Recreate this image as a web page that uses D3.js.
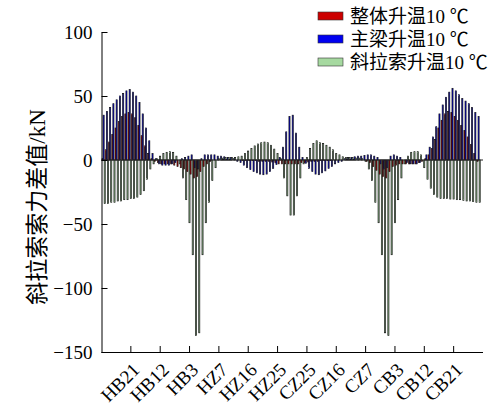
<!DOCTYPE html>
<html>
<head>
<meta charset="utf-8">
<script src="https://cdn.jsdelivr.net/npm/d3@7"></script>
<style>
  body { margin: 0; background: #fff; }
  svg text { font-family: "Liberation Serif", "Noto Sans CJK SC", serif; fill: #000; }
</style>
</head>
<body>
<svg id="chart" width="502" height="408"></svg>
<script>

/////
//
// Data: cable names and force differences (kN)
//
/////

// HB29..HB1, HZ1..HZ29, CZ29..CZ1, CB1..CB29
var cables = [];
d3.range(29, 0, -1).forEach(function(n) { cables.push("HB" + n); });
d3.range(1, 30).forEach(function(n) { cables.push("HZ" + n); });
d3.range(29, 0, -1).forEach(function(n) { cables.push("CZ" + n); });
d3.range(1, 30).forEach(function(n) { cables.push("CB" + n); });

var tickLabels = ["HB21", "HB12", "HB3", "HZ7", "HZ16", "HZ25",
                  "CZ25", "CZ16", "CZ7", "CB3", "CB12", "CB21"];

var seriesNames = ["整体升温10 ℃", "主梁升温10 ℃", "斜拉索升温10 ℃"];

// 整体升温10 ℃
var overall = [
   1,  8, 14, 20, 25, 30, 34, 36, 37, 36, 33, 27, 19, 11,  5,  1, -1, -2, -3, -3,
  -3, -3, -4, -5, -6, -7, -9,-11,-14,-13, -9, -5, -3, -1,  0,  0,  0, 0.5, 0.5, 0.5,
   0,  0,  0,-0.5,-0.5,-0.5,-0.5,-0.5,-1, -1, -1, -1,-1.5,-2, -3, -3, -3, -3,
  -3, -3, -3, -2, -2,-1.5,-1, -1, -1,-0.5,-0.5,-0.5,-0.5, 0,  0,  0,  0, 0.5, 0.5, 0.5,
   0,  0,  0, -1, -2, -5, -8,-11,-13,-14, -9, -5, -4, -3, -3, -3, -3, -3, -3, -2,
  -1,  1,  4,  9, 16, 25, 31, 36, 38, 37, 34, 31, 27, 23, 18, 12,  5, -1
];

// 主梁升温10 ℃
var girder = [
  35, 38, 41, 44, 47, 50, 52, 54, 55, 53, 50, 45, 36, 25, 15,  5,  1, -3, -4, -4,
  -4, -3, -2,  0,  1,  2,  3,  4, -6, -7,  1,  4,  4,  4,  4,  3,  3, 2.5, 2,  2,
   1, -1, -2, -4, -6,-7.5,-9,-10,-11,-11.5,-11,-9,-6.5,-3.5, 2, 10, 22, 34,
  35, 21, 10,  2,-2.5,-6.5,-9,-11,-11.5,-10,-8.5,-6.5,-5, -3, -2, -1,  1,  2,  2, 2.5,
   3,  3, 3.5, 4,  4,  3,  2, -3, -7, -6,  3,  4,  3,  2,  0, -2, -3, -3, -3, -2,
   0,  4, 10, 18, 26, 36, 43, 49, 53, 56, 54, 51, 48, 46, 44, 41, 37, 34
];

// 斜拉索升温10 ℃
var cable = [
  -34,-34,-33,-33,-32,-32,-31,-31,-30,-30,-29,-27,-24,-15, -7, -3,  1,  3,  5,  6,
  6.5,  6,  3, -3,-14,-31,-49,-74,-137,-135,-74,-49,-33,-16, -6,  1, 1.5, 2,  2,  2,
    2, 2.5, 3,  5,  7,  9, 11,12.5,13.5,14,13.5,11.5,8.5, 5,  1,-14,-28,-43,
  -43,-28,-14, -3,  2,  9, 13, 15,13.5, 13,11.5, 10,  8,  5,  4, 2.5, 2,  2,  2, 1.5,
  1.5,  1, -1, -7,-16,-33,-49,-74,-135,-137,-74,-49,-31,-14, -3,  3,  6, 6.5,6.5, 4,
   -6,-15,-22,-27,-29,-30,-30,-30,-30.5,-30.5,-31,-31,-31.5,-32,-32,-32.5,-33,-33
];

var yTicks = [-150, -100, -50, 0, 50, 100];

/////
//
// Chart
//
/////

var colors = ["#cc0000", "#0000f0", "#a6d9a0"];

var svg = d3.select("#chart");

var margin = {left: 101.5, right: 483, top: 32, bottom: 352};

var data = cables.map(function(c, i) {
  return {cable: c, values: [overall[i], girder[i], cable[i]]};
});

var x = d3.scaleBand()
    .domain(cables)
    .range([margin.left, margin.right])
    .paddingInner(0)
    .paddingOuter(0.5);

var x1 = d3.scaleBand()
    .domain([0, 1, 2])
    .range([0, x.bandwidth()])
    .padding(0);

var y = d3.scaleLinear()
    .domain([-150, 100])
    .range([margin.bottom, margin.top]);

// bars, three per cable
var groups = svg.append("g")
    .selectAll("g")
    .data(data)
    .enter().append("g")
      .attr("transform", function(d) { return "translate(" + (x(d.cable) - x.bandwidth() * 0.35) + ",0)"; });

groups.selectAll("rect")
    .data(function(d) { return d.values; })
    .enter().append("rect")
      .attr("x", function(d, i) { return x1(i); })
      .attr("width", x1.bandwidth())
      .attr("y", function(d) { return y(Math.max(0, d)); })
      .attr("height", function(d) { return Math.abs(y(d) - y(0)); })
      .attr("fill", function(d, i) { return colors[i]; })
      .attr("stroke", "#111")
      .attr("stroke-width", 0.7);

// zero line
svg.append("line")
    .attr("x1", margin.left)
    .attr("x2", margin.right)
    .attr("y1", y(0))
    .attr("y2", y(0))
    .attr("stroke", "#222")
    .attr("stroke-width", 1);

// x axis
var xAxis = d3.axisBottom(x)
    .tickValues(tickLabels)
    .tickSizeInner(-6)
    .tickSizeOuter(0);

var gx = svg.append("g")
    .attr("transform", "translate(0," + margin.bottom + ")")
    .call(xAxis);

gx.select(".domain")
    .attr("d", "M" + margin.left + ",0.5H" + margin.right)
    .attr("stroke", "#000");

gx.selectAll(".tick line").attr("stroke", "#000");

gx.selectAll(".tick text")
    .attr("y", 0)
    .attr("dy", 0)
    .attr("text-anchor", "end")
    .attr("transform", "translate(10,19) rotate(-45)")
    .style("font-size", "19px");

// y axis
var yAxis = d3.axisLeft(y)
    .tickValues(yTicks)
    .tickSizeInner(-6)
    .tickSizeOuter(0)
    .tickPadding(9);

var gy = svg.append("g")
    .attr("transform", "translate(" + margin.left + ",0)")
    .call(yAxis);

gy.select(".domain").attr("stroke", "#000");
gy.selectAll(".tick line").attr("stroke", "#000");
gy.selectAll(".tick text").style("font-size", "19px");

// y axis title
svg.append("text")
    .attr("transform", "translate(45,207) rotate(-90)")
    .attr("text-anchor", "middle")
    .style("font-size", "23px")
    .text("斜拉索索力差值/kN");

// legend
var legend = svg.append("g")
    .selectAll("g")
    .data(seriesNames)
    .enter().append("g")
      .attr("transform", function(d, i) { return "translate(318," + (16 + i * 23) + ")"; });

legend.append("rect")
    .attr("x", 0)
    .attr("y", -4)
    .attr("width", 25)
    .attr("height", 8)
    .attr("fill", function(d, i) { return colors[i]; })
    .attr("stroke", "#333")
    .attr("stroke-width", 0.6);

legend.append("text")
    .attr("x", 32)
    .attr("dy", "0.35em")
    .style("font-size", "19px")
    .text(function(d) { return d; });

</script>
</body>
</html>
